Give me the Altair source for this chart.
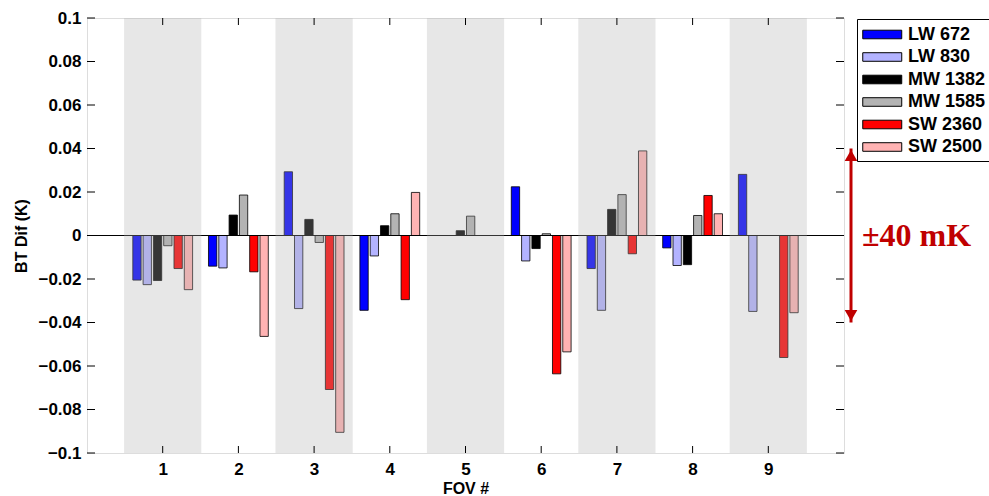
import altair as alt
import pandas as pd

fovs = [1, 2, 3, 4, 5, 6, 7, 8, 9]
series = ["LW 672", "LW 830", "MW 1382", "MW 1585", "SW 2360", "SW 2500"]
colors = ["#0000ff", "#b3b3ff", "#000000", "#b3b3b3", "#ff0000", "#ffb3b3"]

lw672 = [-0.0205, -0.0141, 0.0293, -0.0344, 0.0, 0.0224, -0.0152, -0.0057, 0.0281]
lw830 = [-0.0226, -0.0149, -0.0336, -0.0094, 0.0, -0.0117, -0.0344, -0.0138, -0.0349]
mw1382 = [-0.0207, 0.0094, 0.0074, 0.0045, 0.0022, -0.0060, 0.0120, -0.0134, 0.0]
mw1585 = [-0.0047, 0.0186, -0.0032, 0.0100, 0.0089, 0.0008, 0.0188, 0.0092, 0.0]
sw2360 = [-0.0152, -0.0167, -0.0708, -0.0295, 0.0, -0.0636, -0.0084, 0.0184, -0.0561]
sw2500 = [-0.0249, -0.0464, -0.0905, 0.0198, 0.0, -0.0535, 0.0389, 0.0100, -0.0355]

shaded_fovs = [1, 3, 5, 7, 9]
y_ticks = [-0.1, -0.08, -0.06, -0.04, -0.02, 0, 0.02, 0.04, 0.06, 0.08, 0.1]

values = [lw672, lw830, mw1382, mw1585, sw2360, sw2500]
pitch = 0.136
half = 0.055
rows = []
for k, (name, vals) in enumerate(zip(series, values)):
    for f, v in zip(fovs, vals):
        c = f + (k - 2.5) * pitch
        rows.append({"series": name, "fov": f, "x": c - half, "x2": c + half, "y": 0.0, "v": v})
bars_df = pd.DataFrame(rows)
bands_df = pd.DataFrame({"x": [f - 0.51 for f in shaded_fovs], "x2": [f + 0.51 for f in shaded_fovs]})
yt_df = pd.DataFrame({"t": y_ticks})
xt_df = pd.DataFrame({"t": fovs})

W, H = 757, 435
FONT = "Liberation Sans"

xscale = alt.Scale(domain=[0, 10], nice=False, zero=False)
yscale = alt.Scale(domain=[-0.1, 0.1], nice=False)

bars = alt.Chart(bars_df).mark_bar(stroke="black", strokeWidth=0.8).encode(
    x=alt.X("x:Q", scale=xscale,
            axis=alt.Axis(values=fovs, format="d", title="FOV #", ticks=False, domain=False, grid=False,
                          labelFont=FONT, labelFontWeight="bold", labelFontSize=17, labelPadding=8,
                          titleFont=FONT, titleFontWeight="bold", titleFontSize=16, titlePadding=3,
                          labelColor="black", titleColor="black")),
    x2="x2:Q",
    y=alt.Y("v:Q", scale=yscale,
            axis=alt.Axis(values=y_ticks, format="~g", title="BT Dif (K)", ticks=False, domain=False, grid=False,
                          labelFont=FONT, labelFontWeight="bold", labelFontSize=17, labelPadding=6,
                          titleFont=FONT, titleFontWeight="bold", titleFontSize=16, titlePadding=8,
                          labelColor="black", titleColor="black")),
    y2="y:Q",
    color=alt.Color("series:N", scale=alt.Scale(domain=series, range=colors),
                    legend=alt.Legend(title=None, orient="none", legendX=770, legendY=1,
                                      symbolType="M-1,-0.44H3V0.44H-1Z", symbolSize=380,
                                      symbolStrokeColor="black", symbolStrokeWidth=1, symbolOpacity=1,
                                      labelFont=FONT, labelFontWeight="bold", labelFontSize=18,
                                      labelColor="black", labelOffset=25, rowPadding=2.5,
                                      strokeColor="black", fillColor="white", padding=5)),
)

zero = alt.Chart(pd.DataFrame({"z": [0]})).mark_rule(color="black", strokeWidth=1).encode(
    y=alt.Y("z:Q", scale=yscale), x=alt.value(0), x2=alt.value(W))

bands = alt.Chart(bands_df).mark_rect(color="#b0b0b0", opacity=0.3).encode(
    x=alt.X("x:Q", scale=xscale), x2="x2:Q", y=alt.value(0), y2=alt.value(H))

ytl = alt.Chart(yt_df).mark_rule(color="black", strokeWidth=1).encode(
    y=alt.Y("t:Q", scale=yscale), x=alt.value(0), x2=alt.value(8))
ytr = alt.Chart(yt_df).mark_rule(color="black", strokeWidth=1).encode(
    y=alt.Y("t:Q", scale=yscale), x=alt.value(W - 8), x2=alt.value(W))
xtb = alt.Chart(xt_df).mark_rule(color="black", strokeWidth=1).encode(
    x=alt.X("t:Q", scale=xscale), y=alt.value(H - 7), y2=alt.value(H))
xtt = alt.Chart(xt_df).mark_rule(color="black", strokeWidth=1).encode(
    x=alt.X("t:Q", scale=xscale), y=alt.value(0), y2=alt.value(7))

ann_df = pd.DataFrame({"hi": [0.04], "lo": [-0.04], "mid": [0.0], "label": ["±40 mK"]})
RED = "#c00000"
arrow = alt.Chart(ann_df).mark_rule(color=RED, strokeWidth=3).encode(
    y=alt.Y("hi:Q", scale=yscale), y2="lo:Q", x=alt.value(764))
head_up = alt.Chart(ann_df).mark_point(shape="triangle-up", filled=True, color=RED, size=160, opacity=1, yOffset=7).encode(
    y=alt.Y("hi:Q", scale=yscale), x=alt.value(764))
head_dn = alt.Chart(ann_df).mark_point(shape="triangle-down", filled=True, color=RED, size=160, opacity=1, yOffset=-7).encode(
    y=alt.Y("lo:Q", scale=yscale), x=alt.value(764))
label = alt.Chart(ann_df).mark_text(color=RED, font="Liberation Serif", fontWeight="bold", fontSize=32,
                                    align="left", baseline="middle").encode(
    y=alt.Y("mid:Q", scale=yscale), x=alt.value(775), text="label:N")

chart = alt.layer(bars, zero, bands, ytl, ytr, xtb, xtt, arrow, head_up, head_dn, label).properties(
    width=W, height=H,
    autosize=alt.AutoSizeParams(type="none"),
    padding={"left": 87, "top": 18, "right": 989 - 87 - W, "bottom": 496 - 18 - H},
).configure_view(stroke="black", strokeWidth=1.5).configure(background="white")

chart.save("out.html", embed_options={"renderer": "svg", "actions": False})
